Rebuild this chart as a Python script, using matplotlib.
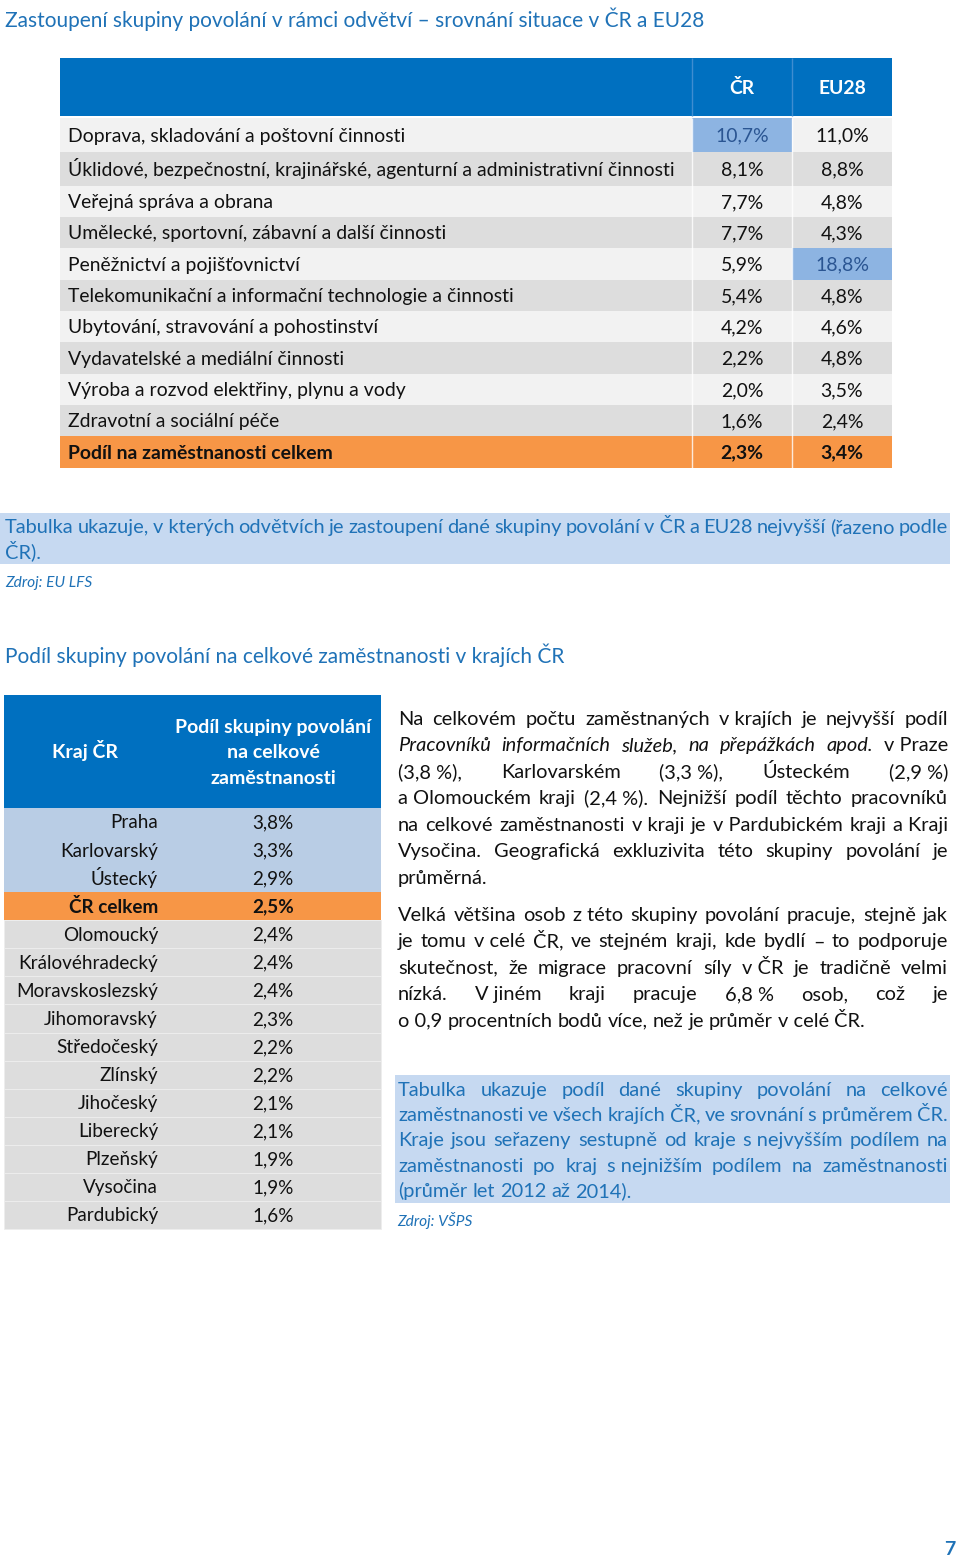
import matplotlib
matplotlib.use("Agg")
import matplotlib.pyplot as plt
import numpy as np

plt.rcParams['font.family'] = ['Lato', 'DejaVu Sans']

W, H = 960, 1559

# ---------------- data ----------------
title_top = "Zastoupení skupiny povolání v rámci odvětví – srovnání situace v ČR a EU28"
col_headers = ["ČR", "EU28"]
sectors = [
    "Doprava, skladování a poštovní činnosti",
    "Úklidové, bezpečnostní, krajinářské, agenturní a administrativní činnosti",
    "Veřejná správa a obrana",
    "Umělecké, sportovní, zábavní a další činnosti",
    "Peněžnictví a pojišťovnictví",
    "Telekomunikační a informační technologie a činnosti",
    "Ubytování, stravování a pohostinství",
    "Vydavatelské a mediální činnosti",
    "Výroba a rozvod elektřiny, plynu a vody",
    "Zdravotní a sociální péče",
]
share_cr = [10.7, 8.1, 7.7, 7.7, 5.9, 5.4, 4.2, 2.2, 2.0, 1.6]
share_eu28 = [11.0, 8.8, 4.8, 4.3, 18.8, 4.8, 4.6, 4.8, 3.5, 2.4]
total_label = "Podíl na zaměstnanosti celkem"
total_cr = 2.3
total_eu28 = 3.4
caption_top = [
    [("Tabulka ukazuje, v\u00a0kterých odvětvích je zastoupení dané skupiny povolání v\u00a0ČR a EU28 nejvyšší (řazeno podle", False)],
    [("ČR).", False)],
]
source_top = "Zdroj: EU LFS"

title_regions = "Podíl skupiny povolání na celkové zaměstnanosti v krajích ČR"
region_header_left = "Kraj ČR"
region_header_right = ["Podíl skupiny povolání", "na celkové", "zaměstnanosti"]
regions = ["Praha", "Karlovarský", "Ústecký", "ČR celkem", "Olomoucký", "Královéhradecký",
           "Moravskoslezský", "Jihomoravský", "Středočeský", "Zlínský", "Jihočeský",
           "Liberecký", "Plzeňský", "Vysočina", "Pardubický"]
region_share = [3.8, 3.3, 2.9, 2.5, 2.4, 2.4, 2.4, 2.3, 2.2, 2.2, 2.1, 2.1, 1.9, 1.9, 1.6]
total_region = "ČR celkem"

paragraph1 = [
    [("Na celkovém počtu zaměstnaných v\u00a0krajích je nejvyšší podíl", False)],
    [("Pracovníků informačních služeb, na přepážkách apod.", True), ("v\u00a0Praze", False)],
    [("(3,8\u00a0%), Karlovarském (3,3\u00a0%), Ústeckém (2,9\u00a0%)", False)],
    [("a\u00a0Olomouckém kraji (2,4\u00a0%). Nejnižší podíl těchto pracovníků", False)],
    [("na celkové zaměstnanosti v\u00a0kraji je v\u00a0Pardubickém kraji a\u00a0Kraji", False)],
    [("Vysočina. Geografická exkluzivita této skupiny povolání je", False)],
    [("průměrná.", False)],
]
paragraph2 = [
    [("Velká většina osob z\u00a0této skupiny povolání pracuje, stejně jak", False)],
    [("je tomu v\u00a0celé ČR, ve stejném kraji, kde bydlí – to podporuje", False)],
    [("skutečnost, že migrace pracovní síly v\u00a0ČR je tradičně velmi", False)],
    [("nízká. V\u00a0jiném kraji pracuje 6,8\u00a0% osob, což je", False)],
    [("o\u00a00,9 procentních bodů více, než je průměr v\u00a0celé ČR.", False)],
]
caption_regions = [
    [("Tabulka ukazuje podíl dané skupiny povolání na celkové", False)],
    [("zaměstnanosti ve všech krajích ČR, ve srovnání s\u00a0průměrem ČR.", False)],
    [("Kraje jsou seřazeny sestupně od kraje s\u00a0nejvyšším podílem na", False)],
    [("zaměstnanosti po kraj s\u00a0nejnižším podílem na zaměstnanosti", False)],
    [("(průměr let 2012 až 2014).", False)],
]
source_regions = "Zdroj: VŠPS"
page_number = "7"

# ---------------- style ----------------
BLUE_HDR = '#0070C0'
BLUE_TXT = '#1F72B7'
CAP_BG = '#C6D9F1'
ROW_LIGHT = '#F2F2F2'
ROW_DARK = '#DDDDDD'
HILITE = '#8DB4E2'
HILITE_TXT = '#2A5592'
ORANGE = '#F79646'
REG_BLUE = '#B9CDE5'
TXT = '#111111'


def pct(v):
    return f"{v:.1f}%".replace('.', ',')


fig = plt.figure(figsize=(W / 100, H / 100), dpi=100)
ax = fig.add_axes([0, 0, 1, 1])
ax.set_xlim(0, W)
ax.set_ylim(H, 0)
ax.axis('off')
fig.canvas.draw()
renderer = fig.canvas.get_renderer()


def text_w(s, size, **kw):
    t = ax.text(0, 0, s, fontsize=size, **kw)
    w = t.get_window_extent(renderer).width
    t.remove()
    return w


def fit(s, target, **kw):
    return 20 * target / text_w(s, 20, **kw)


def put(x, yc, s, size, **kw):
    """Draw text so that its visual middle sits at yc (baseline aligned)."""
    base = yc + 0.34 * size * 100 / 72
    return ax.text(x, base, s, fontsize=size, va='baseline', **kw)


def justified(lines, x0, x1, y0, dy, size, color):
    space = text_w("a a", size) - text_w("aa", size)
    for li, line in enumerate(lines):
        words = []
        for seg, ital in line:
            for w in seg.split(' '):
                words.append((w, ital))
        widths = [text_w(w, size, style='italic' if it else 'normal') for w, it in words]
        last = li == len(lines) - 1
        if last or len(words) == 1:
            gap = space
        else:
            gap = (x1 - x0 - sum(widths)) / (len(words) - 1)
        x = x0
        y = y0 + li * dy
        for (w, it), wd in zip(words, widths):
            put(x, y, w, size, color=color, ha='left', style='italic' if it else 'normal')
            x += wd + gap


# font sizes fitted to widths in reference
fs_title = fit(title_top, 698)
fs_tab = fit(sectors[1], 607)
fs_body = fit("o 0,9 procentních bodů více, než je průměr v celé ČR.", 468)
fs_src = fit(source_top, 87, style='italic')
fs_reg = fit("Moravskoslezský", 141)
fs_reghdr = fit(region_header_right[0], 195, fontweight='bold')

# ---------------- titles ----------------
put(5, 20, title_top, fs_title, color=BLUE_TXT, ha='left')
put(5, 656, title_regions, fs_title, color=BLUE_TXT, ha='left')

# ---------------- top table ----------------
tx0, tc1, tc2, tx1 = 60, 692, 792, 892
edges = [118, 152, 186, 217, 248, 280, 311, 342, 374, 405, 436, 468]
n_rows = len(sectors) + 1
centers = [(edges[i] + edges[i + 1]) / 2 for i in range(n_rows)]
heights = [edges[i + 1] - edges[i] for i in range(n_rows)]
row_colors = [ROW_LIGHT if i % 2 == 0 else ROW_DARK for i in range(len(sectors))] + [ORANGE]
ax.barh(centers, tx1 - tx0, left=tx0, height=heights, color=row_colors, linewidth=0)
ax.barh([87], tx1 - tx0, left=tx0, height=58, color=BLUE_HDR, linewidth=0)

i_cr = int(np.argmax(share_cr))
i_eu = int(np.argmax(share_eu28))
ax.barh([centers[i_cr]], tc2 - tc1, left=tc1, height=heights[i_cr], color=HILITE, linewidth=0)
ax.barh([centers[i_eu]], tx1 - tc2, left=tc2, height=heights[i_eu], color=HILITE, linewidth=0)
ax.vlines([tc1, tc2], 58, 116, colors='#3F8DD0', lw=1)
ax.vlines([tc1, tc2], 118, 468, colors='white', lw=1, alpha=0.8)

put((tc1 + tc2) / 2, 87, col_headers[0], fs_tab, fontweight='bold', color='white', ha='center')
put((tc2 + tx1) / 2, 87, col_headers[1], fs_tab, fontweight='bold', color='white', ha='center')

for i, (lab, a, b) in enumerate(zip(sectors, share_cr, share_eu28)):
    put(68, centers[i], lab, fs_tab, color=TXT, ha='left')
    put((tc1 + tc2) / 2, centers[i], pct(a), fs_tab, ha='center',
        color=HILITE_TXT if i == i_cr else TXT)
    put((tc2 + tx1) / 2, centers[i], pct(b), fs_tab, ha='center',
        color=HILITE_TXT if i == i_eu else TXT)
put(68, centers[-1], total_label, fs_tab, fontweight='bold', color=TXT, ha='left')
put((tc1 + tc2) / 2, centers[-1], pct(total_cr), fs_tab, fontweight='bold', color=TXT, ha='center')
put((tc2 + tx1) / 2, centers[-1], pct(total_eu28), fs_tab, fontweight='bold', color=TXT, ha='center')

# caption top
ax.barh([538.5], 950, left=0, height=51, color=CAP_BG, linewidth=0)
justified(caption_top, 5, 948, 526, 25.5, fs_body, BLUE_TXT)
put(5, 582, source_top, fs_src, style='italic', color=BLUE_TXT, ha='left')

# ---------------- region table ----------------
rx0, rx1 = 4, 381
ax.barh([751.5], rx1 - rx0, left=rx0, height=113, color=BLUE_HDR, linewidth=0)
r_top = 808
r_h = 28.07
i_tot = regions.index(total_region)
r_centers = [r_top + r_h * (i + 0.5) for i in range(len(regions))]
r_colors = [REG_BLUE if i < i_tot else (ORANGE if i == i_tot else ROW_DARK)
            for i in range(len(regions))]
r_edges = ['none' if i <= i_tot else '#EEEEEE' for i in range(len(regions))]
ax.barh(r_centers, rx1 - rx0, left=rx0, height=r_h, color=r_colors,
        edgecolor=r_edges, linewidth=0.6)

put(85, 751, region_header_left, fs_reghdr, fontweight='bold', color='white', ha='center')
for k, line in enumerate(region_header_right):
    put(273, 726 + k * 25.5, line, fs_reghdr, fontweight='bold', color='white', ha='center')

for i, (name, v) in enumerate(zip(regions, region_share)):
    wt = 'bold' if i == i_tot else 'normal'
    put(158, r_centers[i], name, fs_reg, fontweight=wt, color=TXT, ha='right')
    put(273, r_centers[i], pct(v), fs_reg, fontweight=wt, color=TXT, ha='center')

# ---------------- right text ----------------
justified(paragraph1, 398, 948, 718, 26.5, fs_body, TXT)
justified(paragraph2, 398, 948, 914, 26.5, fs_body, TXT)
ax.barh([1139], 555, left=395, height=128, color=CAP_BG, linewidth=0)
justified(caption_regions, 398, 948, 1089, 25.3, fs_body, BLUE_TXT)
put(397, 1221, source_regions, fs_src, style='italic', color=BLUE_TXT, ha='left')

put(955, 1548, page_number, 14, fontweight='bold', color=BLUE_TXT, ha='right')

fig.savefig("out.png", dpi=100)
